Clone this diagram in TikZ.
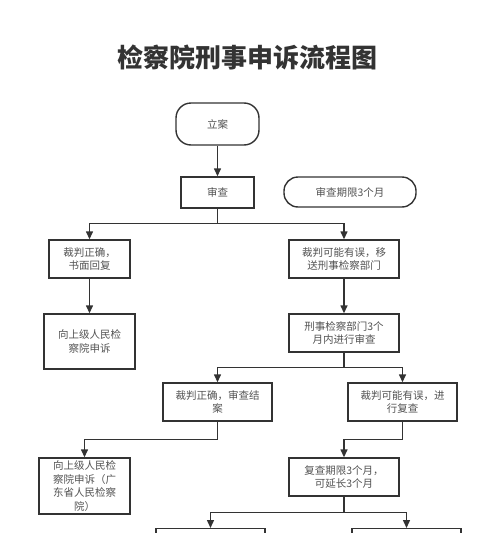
\documentclass[tikz,border=0pt]{standalone}
\usepackage{fontspec}
\setmainfont{Noto Sans CJK SC}
\usepackage{xcolor}
\usepackage{tikz}
\usetikzlibrary{calc,positioning,arrows.meta}

\definecolor{ink}{HTML}{333333}

\begin{document}
\begin{tikzpicture}[
    x=1pt, y=-1pt,
    every node/.style={font=\fontsize{10.5}{13.5}\selectfont, text=ink!85},
    box/.style={rectangle, draw=ink, line width=1.4pt, inner sep=2pt,
                minimum height=38pt, align=center},
    term/.style={rectangle, rounded corners=15pt, draw=ink, line width=1.4pt,
                 align=center},
    arr/.style={-{Triangle[length=8pt,width=7pt]}, line width=1.4pt, draw=ink}
]
\path[use as bounding box, clip] (0,0) rectangle (500,533);

\node[font=\fontsize{26}{30}\selectfont\bfseries, text=ink] (title) at (247,58) {检察院刑事申诉流程图};

\node[term, minimum width=83pt, minimum height=42pt] (lian)   at (217.5,124) {立案};
\node[box, minimum width=73pt, minimum height=31pt]  (review) at (217.5,192.5) {审查};
\node[term, minimum width=132pt, minimum height=30pt, rounded corners=14pt] (period) at (350,192) {审查期限3个月};

\node[box, minimum width=81pt]  (ok1)      at (89.5,259) {裁判正确，\\书面回复};
\node[box, minimum width=110pt] (err1)     at (344,259)  {裁判可能有误，移\\送刑事检察部门};
\node[box, minimum width=91pt, minimum height=55pt] (appeal1) at (89.5,341.5) {向上级人民检\\察院申诉};
\node[box, minimum width=110pt] (crimdept) at (344,333)  {刑事检察部门3个\\月内进行审查};

\node[box, minimum width=109pt] (ok2)      at (217.5,402) {裁判正确，审查结\\案};
\node[box, minimum width=109pt] (err2)     at (402.5,402) {裁判可能有误，进\\行复查};
\node[box, minimum width=91pt, minimum height=56pt] (appeal2) at (84.5,486) {向上级人民检\\察院申诉（广\\东省人民检察\\院）};
\node[box, minimum width=110pt] (recheck)  at (344,477)  {复查期限3个月，\\可延长3个月};

% cut off at the page edge
\node[box, minimum width=109pt, anchor=north] (next1) at (210.5,528) {};
\node[box, minimum width=109pt, anchor=north] (next2) at (406.5,528) {};

\draw[arr] (lian) -- (review);
\draw[arr] (review.south) -- ++(0,15) -| (ok1.north);
\draw[arr] (review.south) -- ++(0,15) -| (err1.north);
\draw[arr] (ok1) -- (appeal1);
\draw[arr] (err1) -- (crimdept);
\draw[arr] (crimdept.south) -- ++(0,15) -| (ok2.north);
\draw[arr] (crimdept.south) -- ++(0,15) -| (err2.north);
\draw[arr] (ok2.south) -- ++(0,18) -| (appeal2.north);
\draw[arr] (err2.south) -- ++(0,18) -| (recheck.north);
\draw[arr] (recheck.south) -- ++(0,16) -| (next1.north);
\draw[arr] (recheck.south) -- ++(0,16) -| (next2.north);
\end{tikzpicture}
\end{document}
